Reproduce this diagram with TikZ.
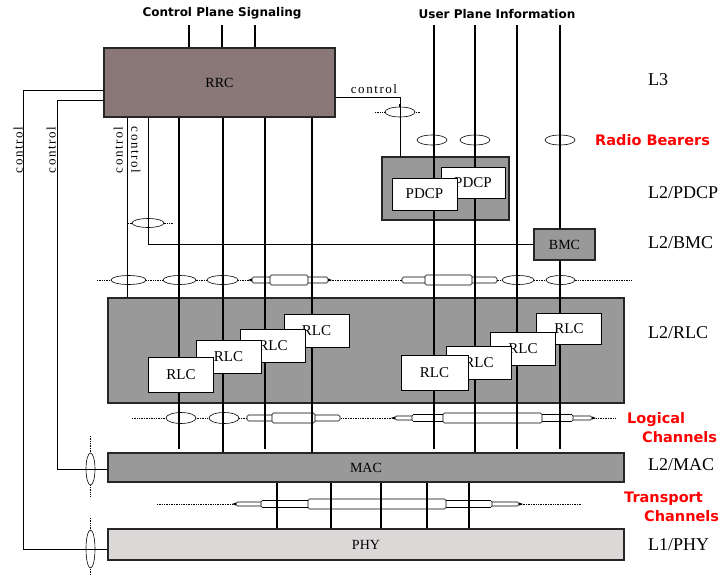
\documentclass[tikz,border=0pt]{standalone}
\usepackage{fontspec}
\setmainfont{Liberation Serif}
\newfontfamily\djv{DejaVu Sans}
\newfontfamily\ctlfont[LetterSpace=12]{Liberation Serif}
\usepackage{xcolor}
\usepackage{tikz}
\usetikzlibrary{shapes.geometric}

\definecolor{rrcbrown}{RGB}{138,120,120}
\definecolor{layergray}{RGB}{153,153,153}
\definecolor{phygray}{RGB}{220,216,216}

\begin{document}
\begin{tikzpicture}[x=1pt, y=-1pt,
  layer/.style={rectangle, draw=black!85, line width=1.2pt, fill=layergray, inner sep=0pt,
                font=\fontsize{14}{16}\selectfont},
  ent/.style={rectangle, draw, line width=0.9pt, fill=white, inner sep=0pt,
              minimum width=65pt, minimum height=33pt, font=\fontsize{15}{17}\selectfont},
  rb/.style={ellipse, draw, line width=0.6pt, fill=white, inner sep=0pt, minimum height=10pt},
  tube/.style={draw, line width=0.6pt, fill=white, rounded corners=1.5pt},
  chan/.style={line width=2.6pt},
  trch/.style={line width=2pt},
  ctl/.style={line width=0.8pt},
  dots/.style={densely dotted, line width=0.7pt},
  ctltext/.style={inner sep=0pt, font=\ctlfont\fontsize{13}{15}\selectfont},
  lay/.style={anchor=west, inner sep=0pt, font=\fontsize{18}{20}\selectfont},
  kind/.style={anchor=west, inner sep=0pt, align=left, text=red,
               font=\djv\bfseries\fontsize{14.5}{19}\selectfont},
  title/.style={font=\djv\bfseries\fontsize{12}{14}\selectfont}
]
\useasboundingbox (0,0) rectangle (724,576);

% layers
\node[layer, fill=rrcbrown, minimum width=231pt, minimum height=69pt] (rrc) at (219.5,82.5) {RRC};
\node[layer, minimum width=127pt, minimum height=63pt] (pdcpbox) at (445.5,188.5) {};
\node[layer, minimum width=61pt, minimum height=31pt] (bmc) at (564.5,244.5) {BMC};
\node[layer, minimum width=516pt, minimum height=105pt] (rlcbox) at (366,350.5) {};
\node[layer, minimum width=516pt, minimum height=29pt] (mac) at (366,467.5) {MAC};
\node[layer, fill=phygray, minimum width=516pt, minimum height=31pt] (phy) at (366,544.5) {PHY};

\node[title] (cps) at (222,13) {Control Plane Signaling};
\node[title] (upi) at (497,14) {User Plane Information};

% layer names
\node[lay] (l3) at (648,80) {L3};
\node[lay] (l2pdcp) at (648,193) {L2/PDCP};
\node[lay] (l2bmc) at (648,243) {L2/BMC};
\node[lay] (l2rlc) at (648,333) {L2/RLC};
\node[lay] (l2mac) at (648,465) {L2/MAC};
\node[lay] (l1phy) at (648,545) {L1/PHY};
\node[kind] (rbear) at (595,140) {Radio Bearers};
\node[kind] (logch) at (627,427.5) {Logical\\\hspace*{15pt}Channels};
\node[kind] (trch) at (624,506.5) {Transport\\\hspace*{20pt}Channels};

% dotted service access rows
\draw[dots] (375,112) -- (420,112);
\draw[dots] (128,223) -- (173,223);
\draw[dots] (97,280) -- (632,280);
\draw[dots] (132,418) -- (615,418);
\draw[dots] (157,504) -- (582,504);
\draw[dots] (90.5,436) -- (90.5,497);
\draw[dots] (90.5,518) -- (90.5,576);

% service access points
\node[rb, minimum width=30pt] (sapc) at (400,112) {};
\node[rb, minimum width=30pt] (rb1) at (432,140) {};
\node[rb, minimum width=30pt] (rb2) at (475,140) {};
\node[rb, minimum width=30pt] (rb3) at (560,140) {};
\node[rb, minimum width=32pt, minimum height=9pt] (sapb) at (148,223) {};
\node[rb, minimum width=35pt, minimum height=9pt] (ra1) at (128.5,280) {};
\node[rb, minimum width=33pt, minimum height=9pt] (ra2) at (179.5,280) {};
\node[rb, minimum width=31pt, minimum height=9pt] (ra3) at (222.5,280) {};
\node[rb, minimum width=32pt, minimum height=9pt] (ra4) at (518,280) {};
\node[rb, minimum width=29pt, minimum height=9pt] (ra5) at (560.5,280) {};
\node[rb, minimum width=30pt, minimum height=11pt] (lc1) at (181,418) {};
\node[rb, minimum width=30pt, minimum height=11pt] (lc2) at (224,418) {};
\node[rb, minimum width=9pt, minimum height=32pt] (sapm) at (90.5,469) {};
\node[rb, minimum width=9pt, minimum height=38pt] (sapp) at (90.5,549) {};

% bundled channels
\draw[tube] (252,277) rectangle (328,283);
\draw[tube] (270,275) rectangle (308,285);
\draw[tube] (402,277) rectangle (497,283);
\draw[tube] (425,275) rectangle (472,285);
\draw[tube] (247,415) rectangle (340,421);
\draw[tube] (272,413) rectangle (315,423);
\draw[tube] (395,416) rectangle (592,420);
\draw[tube] (412,414.5) rectangle (573,421.5);
\draw[tube] (443,413) rectangle (542,423);
\draw[tube] (236,502) rectangle (519,506);
\draw[tube] (261,500.5) rectangle (492,507.5);
\draw[tube] (308,499) rectangle (446,509);
\fill (252,278.5) -- (248,280) -- (252,281.5);
\fill (328,278.5) -- (332,280) -- (328,281.5);
\fill (395,416.5) -- (391,418) -- (395,419.5);
\fill (592,416.5) -- (596,418) -- (592,419.5);
\fill (236,502.5) -- (232,504) -- (236,505.5);
\fill (519,502.5) -- (523,504) -- (519,505.5);

% control connections
\draw[ctl] (rrc.east |- 0,97) -- (400,97) -- (400,0 |- pdcpbox.north);
\draw[line width=2pt] (400,104) -- (400,107);
\node[ctltext, anchor=south] (ctl5) at (374,94) {control};
\draw[ctl] (rrc.west |- 0,90) -- (23,90) -- (23,549) -- (phy.west |- 0,549);
\draw[ctl] (rrc.west |- 0,100) -- (57,100) -- (57,469) -- (mac.west |- 0,469);
\draw[ctl] (127,0 |- rrc.south) -- (127,0 |- rlcbox.north);
\draw[ctl] (148,0 |- rrc.south) -- (148,0 |- bmc.west) -- (bmc.west);
\node[ctltext, rotate=90, anchor=south] (ctl1) at (23,150) {control};
\node[ctltext, rotate=90, anchor=south] (ctl2) at (56,150) {control};
\node[ctltext, rotate=90, anchor=south] (ctl3) at (123,150) {control};
\node[ctltext, rotate=-90, anchor=south] (ctl4) at (131,150) {control};

% channels
\foreach \x in {189,222,255}
  \draw[chan] (\x,25) -- (\x,0 |- rrc.north);
\draw[chan] (179,0 |- rrc.south) -- (179,449);
\draw[chan] (223,0 |- rrc.south) -- (223,0 |- mac.north);
\draw[chan] (265,0 |- rrc.south) -- (265,449);
\draw[chan] (312,0 |- rrc.south) -- (312,0 |- mac.north);
\draw[chan] (434,25) -- (434,449);
\draw[chan] (475,25) -- (475,0 |- mac.north);
\draw[chan] (517,25) -- (517,449);
\draw[chan] (560,25) -- (560,0 |- bmc.north);
\draw[chan] (560,0 |- bmc.south) -- (560,449);
\foreach \x in {277,331,381,427,469}
  \draw[trch] (\x,0 |- mac.south) -- (\x,0 |- phy.north);

% entities
\node[ent, minimum width=64pt, minimum height=31pt] (pdcpb) at (473,182.5) {PDCP};
\node[ent, minimum width=65pt, minimum height=32pt] (pdcpa) at (424.5,194) {PDCP};
\node[ent] (rlcl4) at (316.5,331) {RLC};
\node[ent] (rlcl3) at (273,346) {RLC};
\node[ent] (rlcl2) at (228.5,356.5) {RLC};
\node[ent, minimum height=35pt] (rlcl1) at (181,374.5) {RLC};
\node[ent, minimum height=31pt] (rlcr4) at (569,328.5) {RLC};
\node[ent] (rlcr3) at (523,348.5) {RLC};
\node[ent] (rlcr2) at (479,362.5) {RLC};
\node[ent, minimum width=67pt, minimum height=35pt] (rlcr1) at (434.5,372.5) {RLC};
\end{tikzpicture}
\end{document}
